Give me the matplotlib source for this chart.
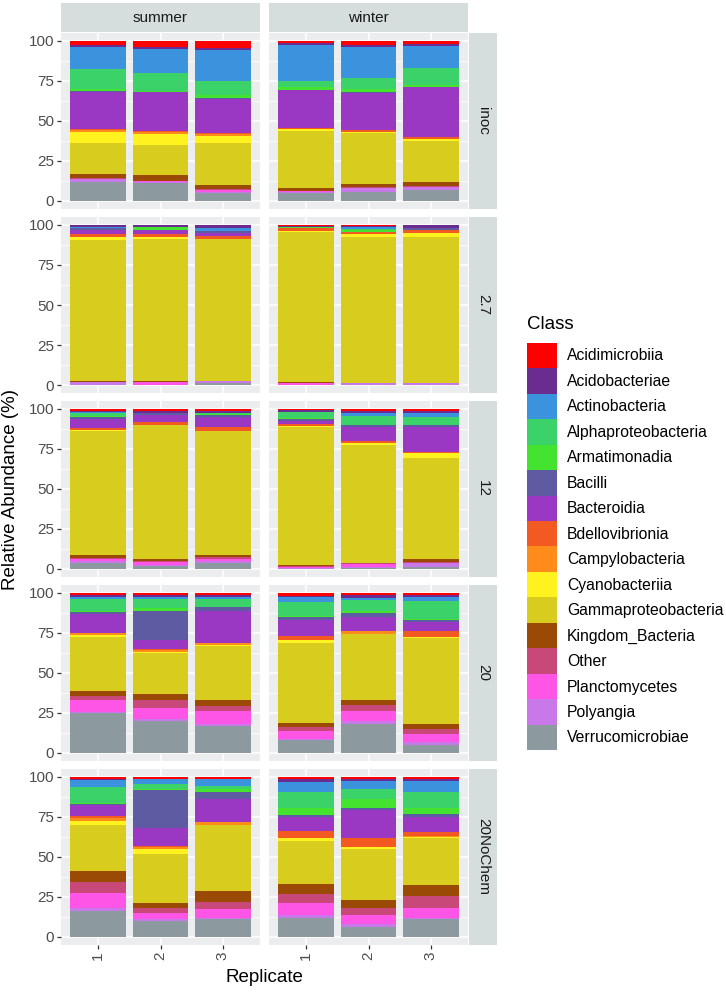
import matplotlib.pyplot as plt
from matplotlib.patches import Patch

plt.rcParams["font.family"] = ["Liberation Sans", "DejaVu Sans"]

# Class order as in the legend (first one is stacked on top)
classes = ["Acidimicrobiia", "Acidobacteriae", "Actinobacteria", "Alphaproteobacteria",
           "Armatimonadia", "Bacilli", "Bacteroidia", "Bdellovibrionia", "Campylobacteria",
           "Cyanobacteriia", "Gammaproteobacteria", "Kingdom_Bacteria", "Other",
           "Planctomycetes", "Polyangia", "Verrucomicrobiae"]
colors = ["#FE0000", "#6A2C91", "#3A93DC", "#3CD26A", "#44E330", "#5E5BA2", "#9A38C4",
          "#F25A22", "#FF8C1A", "#FFF21E", "#D8CD1E", "#9A4A05", "#C9487A", "#FF55E6",
          "#C878E8", "#8C9AA0"]

seasons = ["summer", "winter"]
treatments = ["inoc", "2.7", "12", "20", "20NoChem"]
replicates = [1, 2, 3]
yticks = [0, 25, 50, 75, 100]

# relative abundance (%) per replicate, values in the order of `classes`
inoc_summer = [
    [2.8, 1.2, 13.6, 12.7, 0.8, 0.6, 23.5, 0.4, 1.5, 6.9, 19.1, 2.8, 0.3, 0.3, 1.4, 12.1],
    [3.5, 1.5, 15.2, 11.0, 0.4, 0.4, 24.0, 0.6, 1.5, 6.9, 19.0, 3.3, 0.3, 0.5, 0.9, 11.0],
    [4.6, 1.0, 19.2, 9.0, 2.0, 0.3, 21.6, 0.5, 1.2, 4.2, 26.3, 2.3, 1.0, 1.0, 1.0, 4.8],
]
inoc_winter = [
    [1.5, 1.2, 22.0, 4.2, 1.7, 0.0, 23.5, 0.6, 0.0, 1.5, 35.8, 1.7, 0.0, 0.5, 1.0, 4.8],
    [2.4, 1.2, 19.4, 7.3, 1.5, 0.6, 23.3, 1.0, 0.0, 1.0, 31.7, 2.1, 0.3, 0.3, 2.1, 5.8],
    [1.7, 1.2, 14.2, 10.4, 1.5, 0.0, 30.8, 1.7, 0.0, 0.8, 25.8, 2.5, 0.8, 0.0, 1.7, 6.9],
]
t27_summer = [
    [0.3, 1.0, 0.6, 0.0, 0.0, 1.0, 3.0, 1.7, 0.0, 1.5, 88.5, 0.4, 0.0, 0.0, 2.0, 0.0],
    [0.3, 1.0, 0.0, 0.0, 1.7, 0.0, 2.7, 1.7, 0.0, 1.2, 89.0, 0.4, 0.0, 2.0, 0.0, 0.0],
    [0.3, 1.7, 1.7, 0.0, 0.0, 1.5, 1.5, 2.1, 0.0, 0.0, 88.5, 0.0, 0.0, 0.0, 1.2, 1.5],
]
t27_winter = [
    [0.5, 0.8, 0.0, 0.0, 0.8, 0.0, 0.0, 1.7, 0.0, 0.8, 93.8, 0.6, 0.0, 1.0, 0.0, 0.0],
    [0.4, 0.8, 1.2, 1.0, 0.7, 0.0, 0.0, 1.7, 0.0, 1.5, 91.2, 0.0, 0.0, 0.0, 1.5, 0.0],
    [0.3, 1.5, 0.0, 0.0, 0.0, 1.5, 0.0, 2.0, 0.0, 2.0, 91.2, 0.0, 0.0, 0.0, 1.5, 0.0],
]
t12_summer = [
    [1.2, 0.8, 0.2, 2.3, 0.3, 1.3, 5.9, 1.0, 0.0, 1.0, 77.0, 2.0, 0.5, 1.5, 1.0, 4.0],
    [1.2, 1.0, 0.0, 0.0, 0.0, 1.3, 4.7, 1.7, 0.0, 0.0, 83.6, 1.5, 0.5, 2.0, 0.5, 2.0],
    [1.2, 1.0, 0.0, 1.0, 0.4, 1.6, 6.3, 2.2, 0.0, 0.3, 77.5, 1.0, 1.0, 1.5, 1.0, 4.0],
]
t12_winter = [
    [0.8, 1.0, 0.0, 4.0, 0.5, 1.0, 2.1, 1.1, 0.0, 1.0, 85.9, 1.0, 0.2, 0.8, 0.3, 0.3],
    [1.0, 1.5, 2.0, 5.8, 0.0, 1.2, 8.4, 1.1, 0.0, 1.4, 73.8, 0.3, 0.3, 2.2, 0.5, 0.5],
    [1.0, 1.2, 3.0, 4.7, 0.0, 1.6, 15.1, 1.1, 0.0, 2.7, 63.1, 2.0, 0.5, 0.0, 2.5, 1.5],
]
t20_summer = [
    [1.0, 1.2, 1.5, 7.3, 1.0, 1.4, 11.6, 0.0, 1.0, 1.5, 33.7, 3.1, 2.4, 7.8, 0.5, 25.0],
    [1.2, 1.0, 1.3, 5.8, 2.1, 17.7, 5.6, 0.7, 1.5, 0.5, 25.8, 3.5, 5.2, 7.1, 1.0, 20.0],
    [1.2, 1.3, 1.0, 5.0, 0.5, 2.0, 20.2, 0.0, 1.6, 0.5, 33.8, 3.4, 3.5, 8.0, 1.0, 17.0],
]
t20_winter = [
    [1.8, 0.5, 3.1, 9.2, 0.5, 1.6, 10.4, 2.4, 0.0, 1.7, 49.8, 3.0, 2.0, 5.0, 1.0, 8.0],
    [1.5, 1.5, 1.5, 6.9, 1.2, 2.5, 8.7, 0.0, 1.6, 0.0, 41.6, 3.0, 4.0, 6.0, 2.0, 18.0],
    [1.3, 1.0, 2.5, 11.4, 0.5, 1.5, 5.6, 3.6, 0.0, 0.6, 54.0, 3.0, 3.0, 5.0, 2.0, 5.0],
]
t20nc_summer = [
    [1.1, 1.0, 4.2, 10.1, 0.3, 0.7, 6.7, 1.6, 1.5, 3.1, 28.3, 7.3, 6.3, 9.4, 2.1, 16.3],
    [1.2, 0.3, 2.7, 3.2, 1.0, 23.6, 10.9, 0.6, 1.5, 3.1, 30.4, 3.1, 3.1, 3.8, 1.5, 10.0],
    [1.2, 0.3, 4.3, 1.5, 2.1, 4.2, 14.6, 0.0, 1.6, 0.5, 40.8, 6.9, 4.6, 5.4, 1.0, 11.0],
]
t20nc_winter = [
    [1.5, 1.6, 6.3, 10.1, 4.1, 1.5, 8.4, 4.8, 0.0, 1.4, 27.2, 6.3, 5.3, 7.5, 2.0, 12.0],
    [1.5, 1.2, 4.6, 6.3, 5.9, 1.4, 17.4, 5.2, 0.0, 1.5, 31.8, 4.8, 4.4, 6.0, 2.0, 6.0],
    [1.5, 1.2, 6.7, 10.1, 3.5, 2.1, 9.4, 2.1, 1.2, 0.5, 29.3, 6.7, 7.3, 6.4, 1.0, 11.0],
]

panels = {
    ("inoc", "summer"): inoc_summer, ("inoc", "winter"): inoc_winter,
    ("2.7", "summer"): t27_summer, ("2.7", "winter"): t27_winter,
    ("12", "summer"): t12_summer, ("12", "winter"): t12_winter,
    ("20", "summer"): t20_summer, ("20", "winter"): t20_winter,
    ("20NoChem", "summer"): t20nc_summer, ("20NoChem", "winter"): t20nc_winter,
}

W, H = 726, 992
PANEL_BG = "#EBEDEE"
STRIP_BG = "#D6DDDD"


def box(left, top, width, height):
    return [left / W, 1 - (top + height) / H, width / W, height / H]


def bare(ax):
    ax.set_xticks([])
    ax.set_yticks([])
    for s in ax.spines.values():
        s.set_visible(False)


fig = plt.figure(figsize=(W / 100, H / 100), dpi=100)

col_left = [61, 269]
col_w = 199
row_top = [33, 217, 401, 585, 769]
row_h = 176

for r, treat in enumerate(treatments):
    for c, season in enumerate(seasons):
        ax = fig.add_axes(box(col_left[c], row_top[r], col_w, row_h))
        ax.set_facecolor(PANEL_BG)
        bars = panels[(treat, season)]
        # stack from the bottom class upwards
        bottoms = [0.0] * len(replicates)
        for k in range(len(classes) - 1, -1, -1):
            vals = [b[k] for b in bars]
            ax.bar(replicates, vals, bottom=bottoms, width=0.9, color=colors[k],
                   linewidth=0, zorder=3)
            bottoms = [bt + v for bt, v in zip(bottoms, vals)]
        ax.set_xlim(0.4, 3.6)
        ax.set_ylim(-5, 105)
        ax.set_xticks(replicates)
        ax.set_yticks(yticks)
        ax.set_yticks([12.5, 37.5, 62.5, 87.5], minor=True)
        ax.grid(which="major", color="white", linewidth=1.1, zorder=0)
        ax.grid(which="minor", axis="y", color="white", linewidth=0.55, zorder=0)
        ax.set_axisbelow(True)
        for s in ax.spines.values():
            s.set_visible(False)
        ax.tick_params(which="minor", length=0)
        ax.tick_params(which="major", length=3, width=0.9, color="#333333",
                       labelsize=11, labelcolor="#4D4D4D", pad=2)
        if c == 0:
            ax.set_yticklabels([str(v) for v in yticks])
        else:
            ax.tick_params(axis="y", length=0, labelleft=False)
        if r == len(treatments) - 1:
            ax.set_xticklabels([str(x) for x in replicates], rotation=90)
        else:
            ax.tick_params(axis="x", length=0, labelbottom=False)

        # top strips
        if r == 0:
            st = fig.add_axes(box(col_left[c], 3, col_w, 29))
            st.set_facecolor(STRIP_BG)
            bare(st)
            st.text(0.5, 0.5, season, ha="center", va="center", fontsize=11,
                    color="#1A1A1A", transform=st.transAxes)

    # right strips
    rs = fig.add_axes(box(469, row_top[r], 28, row_h))
    rs.set_facecolor(STRIP_BG)
    bare(rs)
    rs.text(0.5, 0.5, treat, ha="center", va="center", fontsize=11, rotation=-90,
            color="#1A1A1A", transform=rs.transAxes)

fig.text(11 / W, 1 - 489 / H, "Relative Abundance (%)", rotation=90,
         ha="center", va="center", fontsize=13.5)
fig.text(264 / W, 1 - 977 / H, "Replicate", ha="center", va="center", fontsize=13.5)

handles = [Patch(facecolor=col, edgecolor="none") for col in colors]
leg = fig.legend(handles, classes, loc="upper left",
                 bbox_to_anchor=(527 / W, 1 - 316 / H), frameon=False,
                 title="Class", alignment="left", fontsize=11.3, title_fontsize=13.5,
                 handlelength=1.91, handleheight=2.12, labelspacing=0.0,
                 handletextpad=0.64, borderpad=0.0, borderaxespad=0.0)
leg._legend_box.sep = 7

fig.savefig("out.png", dpi=100)
